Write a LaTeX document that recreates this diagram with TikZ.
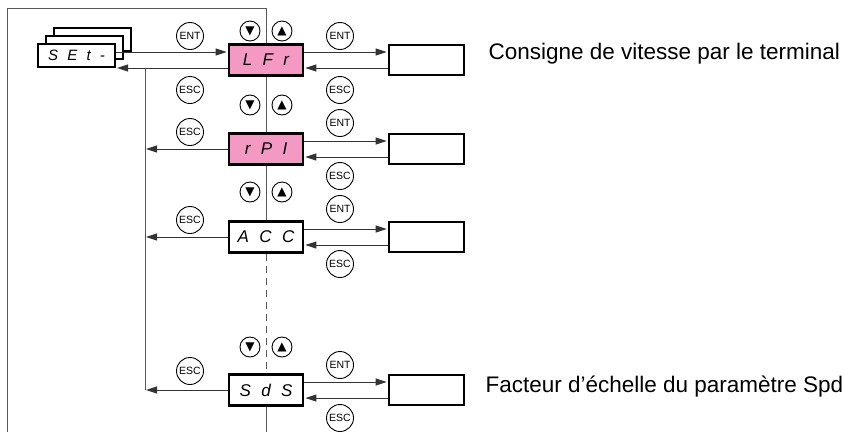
\documentclass[tikz,border=0pt]{standalone}
\usepackage{fontspec}
\setmainfont{Liberation Sans}
\newfontfamily\segfont{Liberation Sans}[WordSpace=2.2]
\newfontfamily\symfont{DejaVu Sans}
\usetikzlibrary{arrows.meta}
\definecolor{lcdpink}{RGB}{243,153,196}

\begin{document}
\begin{tikzpicture}[x=1pt,y=-1pt,line width=1pt,>={Triangle[length=11pt,width=7pt]}]
    \tikzstyle{display}=[draw=black,line width=2.8pt,fill=white,minimum width=74pt,minimum height=31pt,inner sep=0pt,font=\segfont\itshape\fontsize{17}{17}\selectfont]
    \tikzstyle{set display}=[display,minimum width=77pt,minimum height=23pt,line width=2.3pt,font=\segfont\itshape\fontsize{15}{15}\selectfont]
    \tikzstyle{value box}=[draw=black,line width=2.8pt,minimum width=75pt,minimum height=30pt]
    \tikzstyle{button}=[circle,draw=black,line width=0.9pt,minimum size=27pt,inner sep=0pt,font=\fontsize{10.5}{10.5}\selectfont]
    \tikzstyle{arrow key}=[circle,draw=black,line width=0.9pt,minimum size=20pt,inner sep=0pt,font=\symfont\fontsize{12}{12}\selectfont]
    \tikzstyle{link}=[->,draw=black!80,shorten >=1pt]
    \tikzstyle{frame}=[draw=black!65]
    \tikzstyle{annot}=[anchor=base west,inner sep=0pt,font=\fontsize{22.5}{27}\selectfont]

    \useasboundingbox (0,0) rectangle (845,432);

    % Draw the stacked menu displays
    \foreach \name/\d in {3/16,2/8}
        \node[set display] (S-\name) at (76.5+\d,55.5-\d) {};
    \node[set display] (S-1) at (76.5,55.5) {S E t -};

    % Draw the parameter displays and their value boxes
    \foreach \name/\y/\code/\col in {1/60/L F r/lcdpink,2/149/r P I/lcdpink,3/237/A C C/white,4/390/S d S/white}
    {
        \node[display,fill=\col] (C-\name) at (266,\y) {\code};
        \node[value box] (V-\name) at (426.5,\y) {};
    }

    % Outer frame and the spine between displays
    \draw[frame] (7,432) -- (7,8) -- (C-1.north |- 0,8) -- (C-1.north);
    \draw[frame] (C-1.south) -- (C-2.north) (C-2.south) -- (C-3.north)
        (C-4.south) -- (C-4.south |- 0,432);
    \draw[frame,dash pattern=on 7pt off 5pt] (C-3.south) -- (C-4.north);

    % connect menu and first parameter
    \coordinate (L-0) at (145,68);
    \draw[link] (S-1.east |- 0,52) -- (C-1.west |- 0,52);
    \draw[link] (C-1.west |- L-0) -- (S-1.east |- L-0);
    \draw[frame] (L-0) -- (L-0 |- C-4.west);

    % Connect displays with value boxes
    \foreach \name in {1,...,4}
    {
        \draw[link] ([yshift=8pt]C-\name.east) -- ([yshift=8pt]V-\name.west);
        \draw[link] ([yshift=-8pt]V-\name.west) -- ([yshift=-8pt]C-\name.east);
    }

    %  ESC back to the menu
    \foreach \name in {2,3,4}
        \draw[link] (C-\name.west) -- (C-\name.west -| L-0);

    % Add the keys
    \node[button] (E-0) at (190,36) {ENT};
    \foreach \name/\y in {1/90,2/132,3/220,4/371}
        \node[button] (Q-\name) at (190,\y) {ESC};
    \foreach \name/\y in {1/36,2/123,3/209,4/365}
        \node[button] (E-\name) at (340,\y) {ENT};
    \foreach \name/\y in {1/90,2/176,3/264,4/418}
        \node[button] (R-\name) at (340,\y) {ESC};
    \foreach \name/\y in {1/31,2/105,3/192,4/347}
    {
        \node[arrow key] (D-\name) at (250,\y) {▼};
        \node[arrow key] (U-\name) at (282,\y) {▲};
    }

    % Annotate the parameters
    \node[annot] (T-1) at (488,59) {Consigne de vitesse par le terminal};
    \node[annot] (T-4) at (485,392) {Facteur d’échelle du paramètre Spd};
\end{tikzpicture}
\end{document}
